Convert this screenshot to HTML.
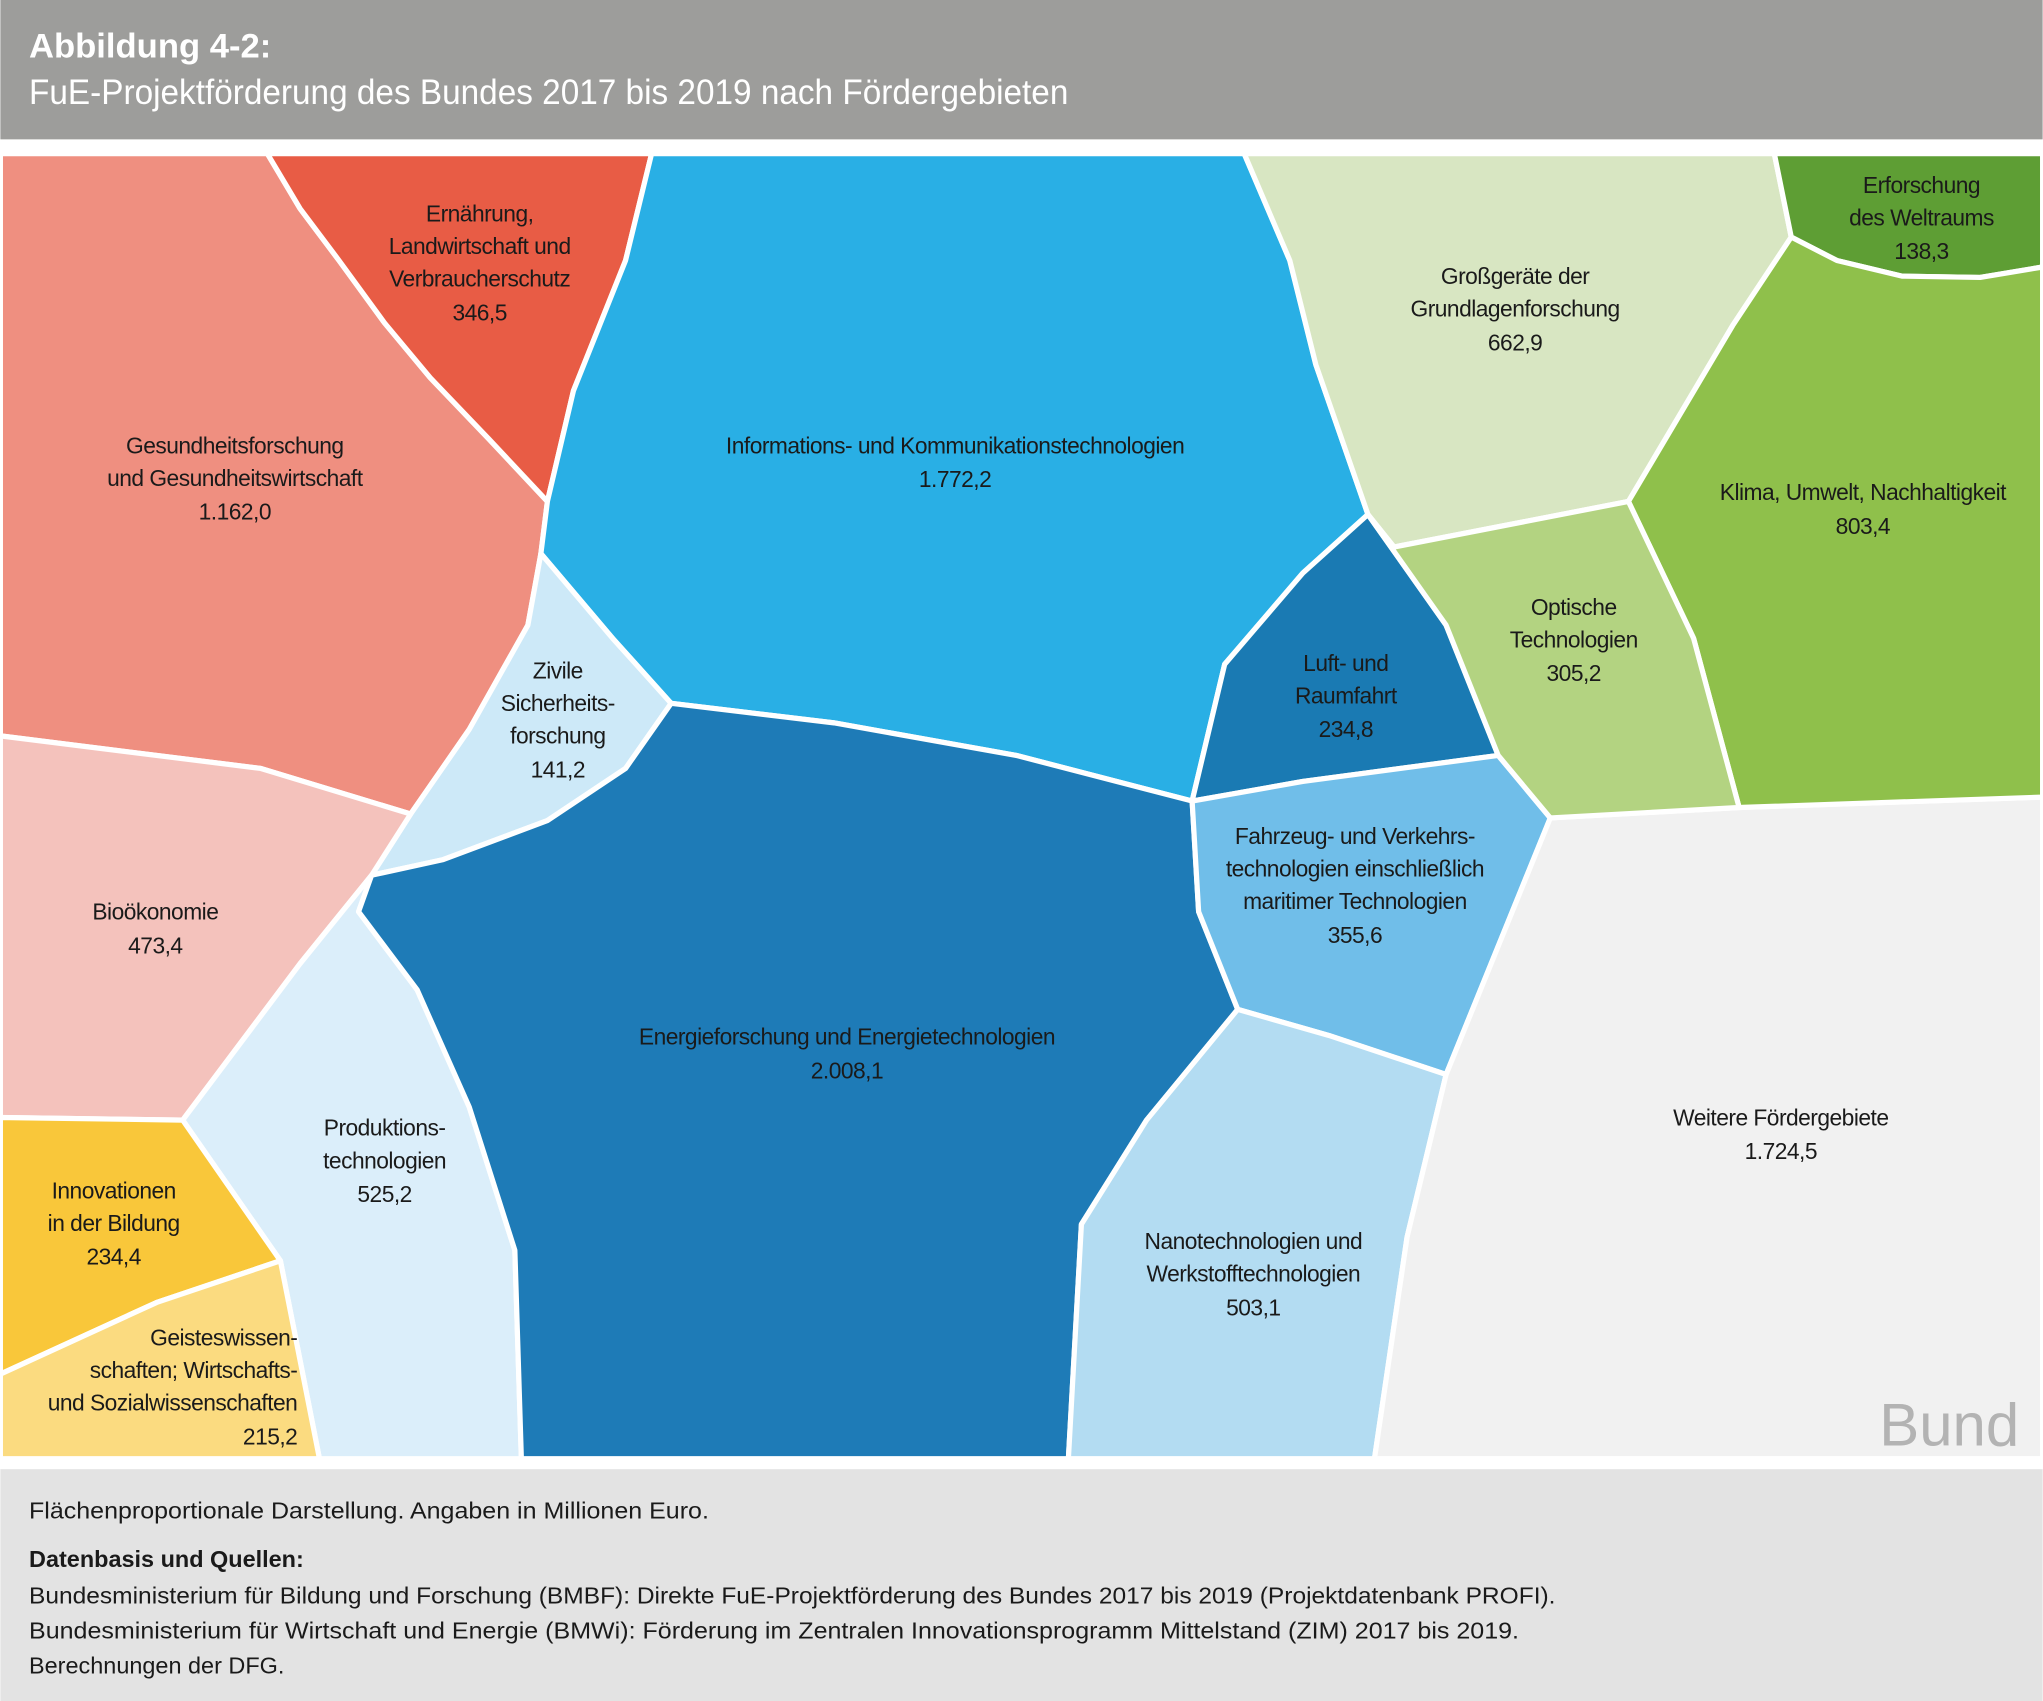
<!DOCTYPE html>
<html><head><meta charset="utf-8"><style>
html,body{margin:0;padding:0;background:#fff}
svg{display:block}
text{font-family:"Liberation Sans Narrow","Liberation Sans",sans-serif;}
</style></head><body>
<svg width="2043" height="1701" viewBox="0 0 1568 1306" xmlns="http://www.w3.org/2000/svg">
<rect x="0" y="0" width="1568" height="1306" fill="#fff"/>
<rect x="0" y="0" width="1568" height="107" fill="#9d9d9b"/>
<text x="22" y="44" font-size="26" font-weight="bold" fill="#fff" textLength="186" lengthAdjust="spacingAndGlyphs">Abbildung 4-2:</text>
<text x="22" y="80" font-size="27" fill="#fff" textLength="798" lengthAdjust="spacingAndGlyphs">FuE-Projektförderung des Bundes 2017 bis 2019 nach Fördergebieten</text>
<g stroke="#fff" stroke-width="4" stroke-linejoin="round">
<polygon fill="#ef8f80" points="0,118 205,118 230,160 260,200 295,248 330,290 375,337 420,385 415,425 405,480 360,560 315,625 200,590 0,565"/>
<polygon fill="#e85c45" points="205,118 500,118 480,200 440,300 420,385 375,337 330,290 295,248 260,200 230,160"/>
<polygon fill="#29afe5" points="500,118 955,118 990,200 1010,280 1050,395 1000,440 940,510 915,615 780,580 640,555 515,540 470,490 415,425 420,385 440,300 480,200"/>
<polygon fill="#cde9f8" points="415,425 470,490 515,540 480,590 420,630 340,660 285,672 315,625 360,560 405,480"/>
<polygon fill="#f4c2bc" points="0,565 200,590 315,625 285,672 230,740 140,860 0,858"/>
<polygon fill="#dbeefa" points="285,672 230,740 140,860 215,968 245,1120 400,1120 395,960 360,850 320,760 275,700"/>
<polygon fill="#f9c73a" points="0,858 140,860 215,968 120,1000 0,1055"/>
<polygon fill="#fbdb80" points="0,1055 120,1000 215,968 245,1120 0,1120"/>
<polygon fill="#1e7bb7" points="285,672 340,660 420,630 480,590 515,540 640,555 780,580 915,615 920,700 950,775 880,860 830,940 820,1120 400,1120 395,960 360,850 320,760 275,700"/>
<polygon fill="#1a7ab3" points="1050,395 1110,480 1150,580 1000,600 915,615 940,510 1000,440"/>
<polygon fill="#70bee9" points="915,615 1000,600 1150,580 1190,628 1110,825 1020,795 950,775 920,700"/>
<polygon fill="#b3dcf2" points="950,775 1020,795 1110,825 1080,950 1055,1120 820,1120 830,940 880,860"/>
<polygon fill="#f1f1f1" points="1190,628 1335,620 1568,612 1568,1120 1055,1120 1080,950 1110,825"/>
<polygon fill="#d8e6c2" points="955,118 1362,118 1375,182 1330,250 1250,385 1070,420 1050,395 1010,280 990,200"/>
<polygon fill="#5e9e34" points="1362,118 1568,118 1568,205 1520,213 1460,212 1410,200 1375,182"/>
<polygon fill="#8fc04b" points="1375,182 1410,200 1460,212 1520,213 1568,205 1568,612 1335,620 1300,490 1250,385 1330,250"/>
<polygon fill="#b3d381" points="1050,395 1070,420 1250,385 1300,490 1335,620 1190,628 1150,580 1110,480"/>
</g>
<g font-size="17.5" text-anchor="middle" fill="#1a1a1a" letter-spacing="-0.4">
<text x="368" y="170">Ernährung,</text><text x="368" y="195">Landwirtschaft und</text><text x="368" y="220">Verbraucherschutz</text><text x="368" y="246">346,5</text>
<text x="180" y="348">Gesundheitsforschung</text><text x="180" y="373">und Gesundheitswirtschaft</text><text x="180" y="399">1.162,0</text>
<text x="733" y="348">Informations- und Kommunikationstechnologien</text><text x="733" y="374">1.772,2</text>
<text x="1163" y="218">Großgeräte der</text><text x="1163" y="243">Grundlagenforschung</text><text x="1163" y="269">662,9</text>
<text x="1475" y="148">Erforschung</text><text x="1475" y="173">des Weltraums</text><text x="1475" y="199">138,3</text>
<text x="1430" y="384">Klima, Umwelt, Nachhaltigkeit</text><text x="1430" y="410">803,4</text>
<text x="1208" y="472">Optische</text><text x="1208" y="497">Technologien</text><text x="1208" y="523">305,2</text>
<text x="1033" y="515">Luft- und</text><text x="1033" y="540">Raumfahrt</text><text x="1033" y="566">234,8</text>
<text x="428" y="521">Zivile</text><text x="428" y="546">Sicherheits-</text><text x="428" y="571">forschung</text><text x="428" y="597">141,2</text>
<text x="1040" y="648">Fahrzeug- und Verkehrs-</text><text x="1040" y="673">technologien einschließlich</text><text x="1040" y="698">maritimer Technologien</text><text x="1040" y="724">355,6</text>
<text x="119" y="706">Bioökonomie</text><text x="119" y="732">473,4</text>
<text x="650" y="802">Energieforschung und Energietechnologien</text><text x="650" y="828">2.008,1</text>
<text x="295" y="872">Produktions-</text><text x="295" y="897">technologien</text><text x="295" y="923">525,2</text>
<text x="1367" y="864">Weitere Fördergebiete</text><text x="1367" y="890">1.724,5</text>
<text x="87" y="920">Innovationen</text><text x="87" y="945">in der Bildung</text><text x="87" y="971">234,4</text>
<text x="962" y="959">Nanotechnologien und</text><text x="962" y="984">Werkstofftechnologien</text><text x="962" y="1010">503,1</text>
</g>
<g font-size="17.5" text-anchor="end" fill="#1a1a1a" letter-spacing="-0.4">
<text x="228" y="1033">Geisteswissen-</text><text x="228" y="1058">schaften; Wirtschafts-</text><text x="228" y="1083">und Sozialwissenschaften</text><text x="228" y="1109">215,2</text>
</g>
<text x="1550" y="1110" font-size="46" text-anchor="end" fill="#b3b3b3">Bund</text>
<rect x="0" y="1128" width="1568" height="178" fill="#e3e3e3"/>
<g font-size="18" fill="#1a1a1a">
<text x="22" y="1166" textLength="522" lengthAdjust="spacingAndGlyphs">Flächenproportionale Darstellung. Angaben in Millionen Euro.</text>
<text x="22" y="1203" font-weight="bold">Datenbasis und Quellen:</text>
<text x="22" y="1231" textLength="1172" lengthAdjust="spacingAndGlyphs">Bundesministerium für Bildung und Forschung (BMBF): Direkte FuE-Projektförderung des Bundes 2017 bis 2019 (Projektdatenbank PROFI).</text>
<text x="22" y="1258" textLength="1144" lengthAdjust="spacingAndGlyphs">Bundesministerium für Wirtschaft und Energie (BMWi): Förderung im Zentralen Innovationsprogramm Mittelstand (ZIM) 2017 bis 2019.</text>
<text x="22" y="1285">Berechnungen der DFG.</text>
</g>
</svg>
</body></html>
